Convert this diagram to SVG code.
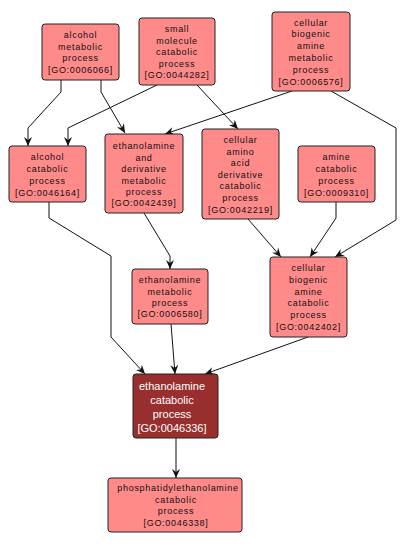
<svg xmlns="http://www.w3.org/2000/svg" width="405" height="546" viewBox="0 0 405 546">
<style>
.n rect{fill:#ff8a8a;stroke:#222;stroke-width:1}
.n text{font-family:"Liberation Sans",Arial,sans-serif;font-size:9px;letter-spacing:0.7px;fill:#111;text-anchor:middle}
.d rect{fill:#992e2e;stroke:#222;stroke-width:1}
.d text{font-family:"Liberation Sans",Arial,sans-serif;font-size:11px;fill:#fff;text-anchor:middle}
#edges path{fill:none;stroke:#111;stroke-width:1;marker-end:url(#ah)}
</style>
<defs>
<marker id="ah" markerUnits="userSpaceOnUse" markerWidth="10" markerHeight="10" refX="9" refY="4" orient="auto">
<path d="M0,0 L9,4 L0,8 L3,4 z" fill="#111"/>
</marker>
</defs>
<rect width="405" height="546" fill="#fff"/>
<g id="edges">
<path d="M61,80 V92 L28,128 V146"/>
<path d="M101,80 V92 L125,133"/>
<path d="M157,85 L68,128 V146"/>
<path d="M197,85 L238,129"/>
<path d="M292,91 L165,134"/>
<path d="M331,91 L396,128 V220 L335,257"/>
<path d="M49,202 V218 L111,256 V337 L145,374"/>
<path d="M144,213 L170,256 V269"/>
<path d="M248,219 L281,257"/>
<path d="M336,202 V218 L310,257"/>
<path d="M171,324 L175,374"/>
<path d="M308,337 L205,374"/>
<path d="M176,438 V478"/>
</g>
<g id="n1" class="n"><rect x="42" y="24" width="77" height="56" rx="3"/>
<text x="80.5" y="38">alcohol</text><text x="80.5" y="50">metabolic</text><text x="80.5" y="61">process</text><text x="80.5" y="73">[GO:0006066]</text></g>
<g id="n2" class="n"><rect x="139" y="18" width="76" height="67" rx="3"/>
<text x="177" y="32">small</text><text x="177" y="44">molecule</text><text x="177" y="55">catabolic</text><text x="177" y="67">process</text><text x="177" y="78">[GO:0044282]</text></g>
<g id="n3" class="n"><rect x="272" y="12" width="78" height="79" rx="3"/>
<text x="311" y="26">cellular</text><text x="311" y="37">biogenic</text><text x="311" y="49">amine</text><text x="311" y="61">metabolic</text><text x="311" y="73">process</text><text x="311" y="85">[GO:0006576]</text></g>
<g id="n4" class="n"><rect x="9" y="146" width="77" height="56" rx="3"/>
<text x="47.5" y="160">alcohol</text><text x="47.5" y="172">catabolic</text><text x="47.5" y="184">process</text><text x="47.5" y="196">[GO:0046164]</text></g>
<g id="n5" class="n"><rect x="105" y="134" width="78" height="79" rx="3"/>
<text x="144" y="149">ethanolamine</text><text x="144" y="161">and</text><text x="144" y="172">derivative</text><text x="144" y="184">metabolic</text><text x="144" y="195">process</text><text x="144" y="206">[GO:0042439]</text></g>
<g id="n6" class="n"><rect x="202" y="129" width="77" height="90" rx="3"/>
<text x="240.5" y="143">cellular</text><text x="240.5" y="155">amino</text><text x="240.5" y="166">acid</text><text x="240.5" y="178">derivative</text><text x="240.5" y="189">catabolic</text><text x="240.5" y="201">process</text><text x="240.5" y="213">[GO:0042219]</text></g>
<g id="n7" class="n"><rect x="298" y="146" width="77" height="56" rx="3"/>
<text x="336.5" y="160">amine</text><text x="336.5" y="172">catabolic</text><text x="336.5" y="184">process</text><text x="336.5" y="196">[GO:0009310]</text></g>
<g id="n8" class="n"><rect x="132" y="269" width="76" height="55" rx="3"/>
<text x="170" y="283">ethanolamine</text><text x="170" y="295">metabolic</text><text x="170" y="306">process</text><text x="170" y="317">[GO:0006580]</text></g>
<g id="n9" class="n"><rect x="270" y="257" width="77" height="80" rx="3"/>
<text x="308.5" y="271">cellular</text><text x="308.5" y="283">biogenic</text><text x="308.5" y="295">amine</text><text x="308.5" y="306">catabolic</text><text x="308.5" y="318">process</text><text x="308.5" y="330">[GO:0042402]</text></g>
<g id="n10" class="d"><rect x="133" y="374" width="85" height="64" rx="3"/>
<text x="172" y="390">ethanolamine</text><text x="172" y="404">catabolic</text><text x="172" y="418">process</text><text x="172" y="432">[GO:0046336]</text></g>
<g id="n11" class="n"><rect x="108" y="478" width="134" height="54" rx="3"/>
<text x="178" y="491">phosphatidylethanolamine</text><text x="176" y="503">catabolic</text><text x="176" y="514">process</text><text x="176" y="526">[GO:0046338]</text></g>
</svg>
